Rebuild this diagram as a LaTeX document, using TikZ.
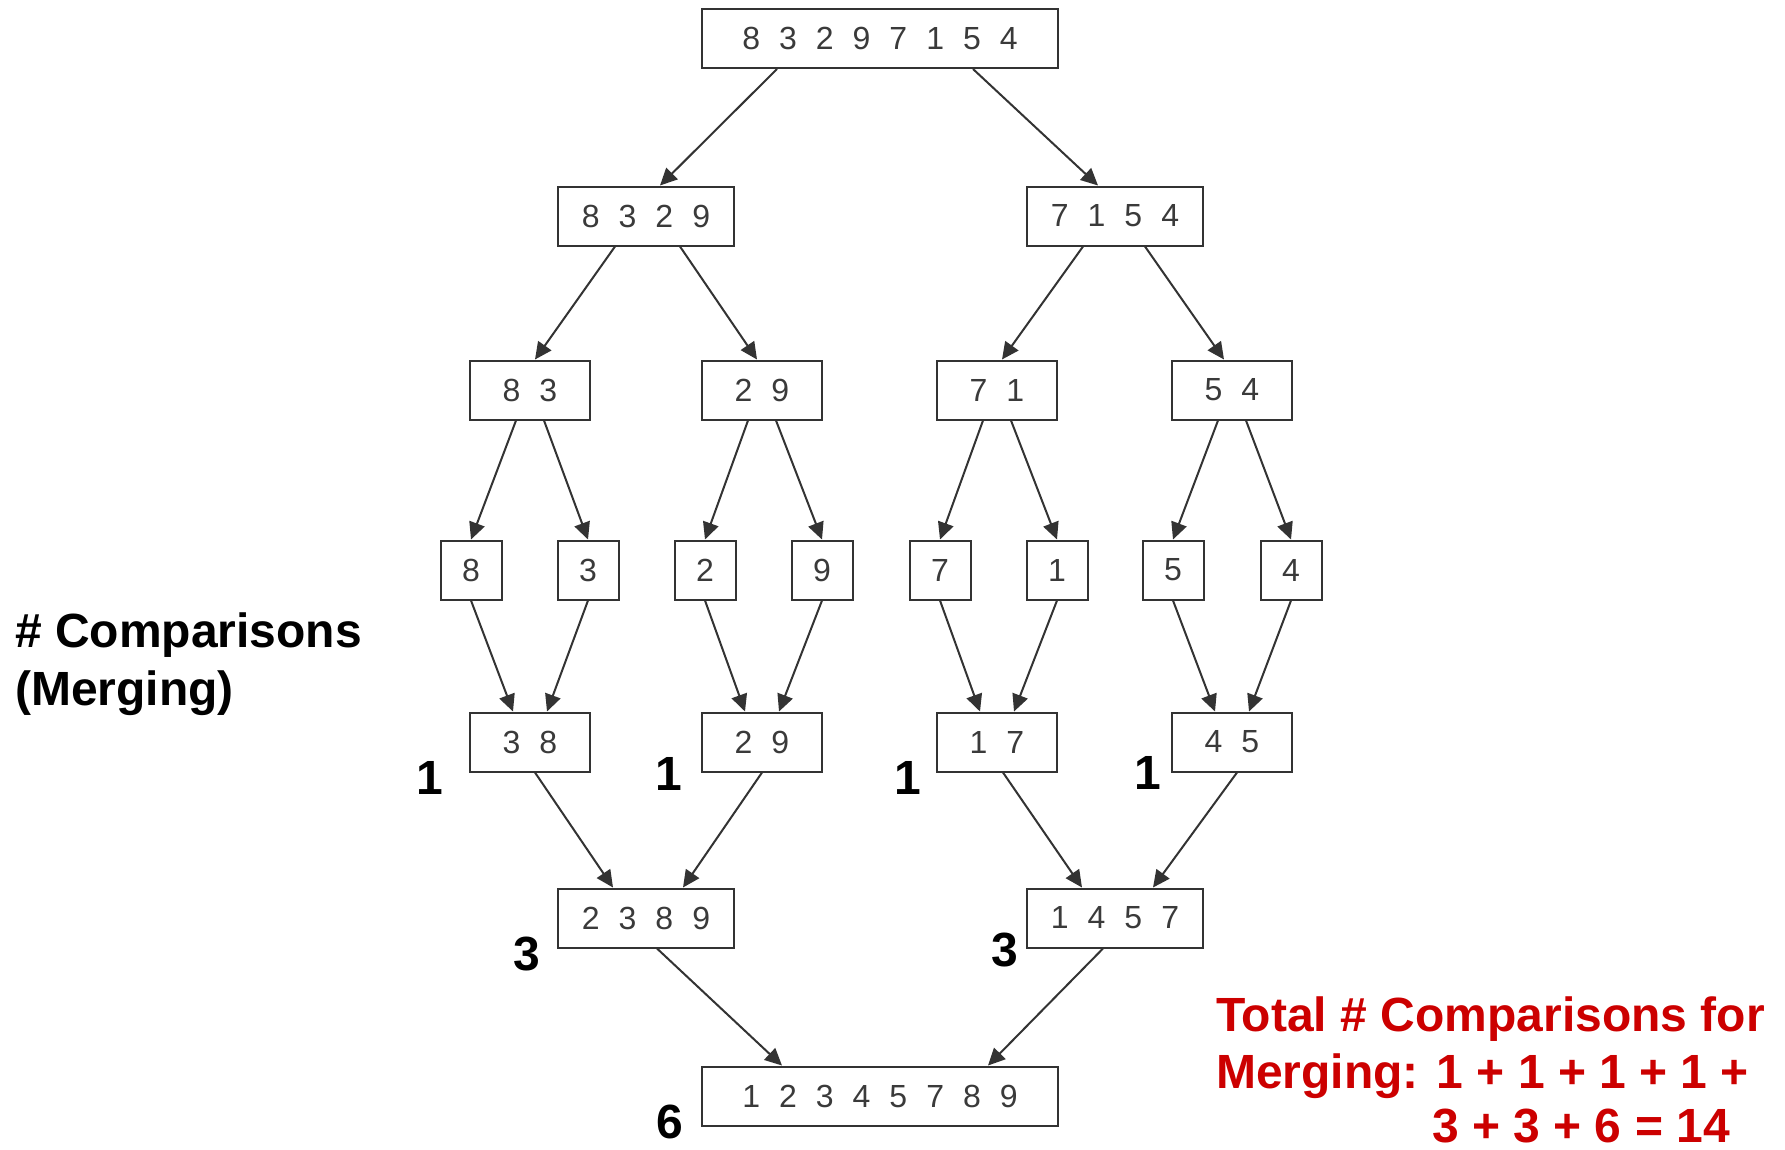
\documentclass[tikz,border=0pt]{standalone}
\usepackage{fontspec}
\setmainfont{Liberation Sans}
\usepackage{xcolor}
\usetikzlibrary{arrows.meta, positioning, calc}
\definecolor{linegray}{HTML}{333333}
\definecolor{digitgray}{HTML}{3A3A3A}
\definecolor{sumred}{HTML}{CC0000}

\begin{document}
\begin{tikzpicture}[x=1pt, y=-1pt,
    arr/.style={draw=linegray, line width=2pt, -{Triangle[length=17pt,width=16pt]}},
    box/.style={draw=linegray, line width=2pt, minimum height=59pt, inner sep=0pt, text=digitgray,
      font={\fontsize{32}{38}\selectfont\spaceskip=19pt\relax}},
    cnt/.style={inner sep=0pt, font={\fontsize{48}{58}\selectfont\bfseries}},
    note/.style={anchor=base west, inner sep=0pt, font={\fontsize{48}{58}\selectfont\bfseries}}]
      \def\weight{356pt}
      \def\wfour{176pt}
      \def\wtwo{120pt}
      \def\wone{61pt}

      \useasboundingbox (0,0) rectangle (1785,1149);

      % splitting
      \node[box, minimum width=\weight] (all) at (880,38.5) {8 3 2 9 7 1 5 4};
      \node[box, minimum width=\wfour] (l) at (646,216) {8 3 2 9};
      \node[box, minimum width=\wfour] (r) at (1115,216) {7 1 5 4};

      \node[box, minimum width=\wtwo] (ll) at (530,390) {8 3};
      \node[box, minimum width=\wtwo] (lr) at (762,390) {2 9};
      \node[box, minimum width=\wtwo] (rl) at (997,390) {7 1};
      \node[box, minimum width=\wtwo] (rr) at (1232,390) {5 4};

      \node[box, minimum width=\wone] (d8) at (471,570) {8};
      \node[box, minimum width=\wone] (d3) at (588,570) {3};
      \node[box, minimum width=\wone] (d2) at (705,570) {2};
      \node[box, minimum width=\wone] (d9) at (822,570) {9};
      \node[box, minimum width=\wone] (d7) at (940,570) {7};
      \node[box, minimum width=\wone] (d1) at (1057,570) {1};
      \node[box, minimum width=\wone] (d5) at (1173,570) {5};
      \node[box, minimum width=\wone] (d4) at (1291,570) {4};

      % merging
      \node[box, minimum width=\wtwo] (m38) at (530,742) {3 8};
      \node[box, minimum width=\wtwo] (m29) at (762,742) {2 9};
      \node[box, minimum width=\wtwo] (m17) at (997,742) {1 7};
      \node[box, minimum width=\wtwo] (m45) at (1232,742) {4 5};

      \node[box, minimum width=\wfour] (m2389) at (646,918) {2 3 8 9};
      \node[box, minimum width=\wfour] (m1457) at (1115,918) {1 4 5 7};

      \node[box, minimum width=\weight] (sorted) at (880,1096) {1 2 3 4 5 7 8 9};

      \draw[arr] ([xshift=-103pt]all.south) -- ([xshift=14pt]l.north);
      \draw[arr] ([xshift=93pt]all.south) -- ([xshift=-17pt]r.north);

      \draw[arr] ([xshift=-31pt]l.south) -- ([xshift=5pt]ll.north);
      \draw[arr] ([xshift=34pt]l.south) -- ([xshift=-5pt]lr.north);
      \draw[arr] ([xshift=-32pt]r.south) -- ([xshift=5pt]rl.north);
      \draw[arr] ([xshift=30pt]r.south) -- ([xshift=-8pt]rr.north);

      \draw[arr] ([xshift=-14pt]ll.south) -- (d8.north);
      \draw[arr] ([xshift=14pt]ll.south) -- (d3.north);
      \draw[arr] ([xshift=-14pt]lr.south) -- (d2.north);
      \draw[arr] ([xshift=14pt]lr.south) -- (d9.north);
      \draw[arr] ([xshift=-14pt]rl.south) -- (d7.north);
      \draw[arr] ([xshift=14pt]rl.south) -- (d1.north);
      \draw[arr] ([xshift=-14pt]rr.south) -- (d5.north);
      \draw[arr] ([xshift=14pt]rr.south) -- (d4.north);

      \draw[arr] (d8.south) -- ([xshift=-17pt]m38.north);
      \draw[arr] (d3.south) -- ([xshift=17pt]m38.north);
      \draw[arr] (d2.south) -- ([xshift=-17pt]m29.north);
      \draw[arr] (d9.south) -- ([xshift=17pt]m29.north);
      \draw[arr] (d7.south) -- ([xshift=-17pt]m17.north);
      \draw[arr] (d1.south) -- ([xshift=17pt]m17.north);
      \draw[arr] (d5.south) -- ([xshift=-17pt]m45.north);
      \draw[arr] (d4.south) -- ([xshift=17pt]m45.north);

      \draw[arr] ([xshift=5pt]m38.south) -- ([xshift=-33pt]m2389.north);
      \draw[arr] (m29.south) -- ([xshift=37pt]m2389.north);
      \draw[arr] ([xshift=6pt]m17.south) -- ([xshift=-33pt]m1457.north);
      \draw[arr] ([xshift=5pt]m45.south) -- ([xshift=38pt]m1457.north);

      \draw[arr] ([xshift=11pt]m2389.south) -- ([xshift=-98pt]sorted.north);
      \draw[arr] ([xshift=-12pt]m1457.south) -- ([xshift=108pt]sorted.north);

      % comparisons per merge
      \node[cnt] (c38) at (430,778) {1};
      \node[cnt] (c29) at (669,774) {1};
      \node[cnt] (c17) at (908,778) {1};
      \node[cnt] (c45) at (1148,773) {1};
      \node[cnt] (c2389) at (527,954) {3};
      \node[cnt] (c1457) at (1005,950) {3};
      \node[cnt] (csorted) at (670,1122) {6};

      \node[note] (cmpA) at (15,647) {\# Comparisons};
      \node[note] (cmpB) at (15,705) {(Merging)};

      \node[note, text=sumred] (totA) at (1216,1031) {Total \# Comparisons for};
      \node[note, text=sumred] (totB) at (1216,1088) {Merging: 1 + 1 + 1 + 1 +};
      \node[note, text=sumred] (totC) at (1432,1142) {3 + 3 + 6 = 14};
\end{tikzpicture}
\end{document}
